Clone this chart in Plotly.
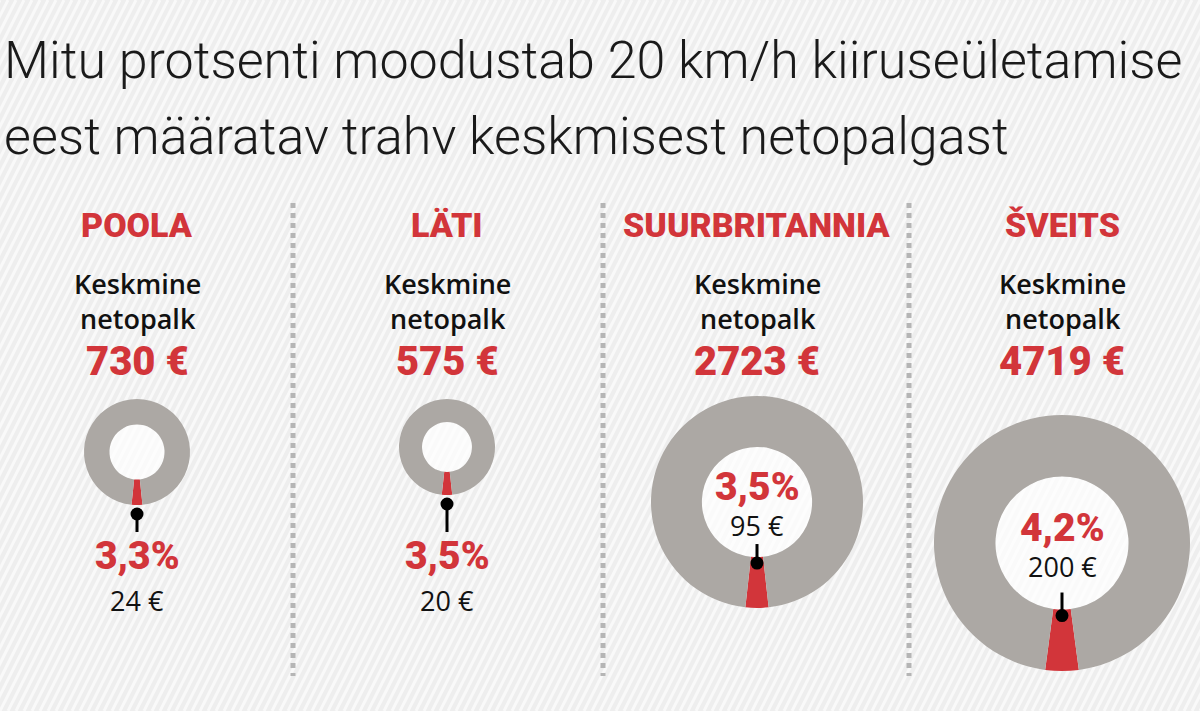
import plotly.graph_objects as go

# data read from the infographic
countries = ['POOLA', 'LÄTI', 'SUURBRITANNIA', 'ŠVEITS']
salaries = [730, 575, 2723, 4719]        # keskmine netopalk, €
fine_pct = [3.3, 3.5, 3.5, 4.2]          # trahv % palgast
fines = [24, 20, 95, 200]                # trahv, €

title_lines = [
	'Mitu protsenti moodustab 20 km/h kiiruseületamise',
	'eest määratav trahv keskmisest netopalgast',
]
salary_label = 'Keskmine<br>netopalk'

# layout (pixels)
W, H = 1200, 711
col_x = [137, 447, 757, 1062]
ring_cy = [452, 447, 502, 543]
ring_r = [53, 48, 106, 128]
separators_x = [293, 603, 909]
HOLE = 0.52

RED = '#d2353a'
GREY = '#aca8a4'
BG = '#eeeeee'
HEAVY = 'Roboto, Lato, sans-serif'
SANS = 'Open Sans, Noto Sans, sans-serif'


def fmt_pct(v):
	return f'{v:.1f}'.replace('.', ',') + '%'


fig = go.Figure()
annotations = []
shapes = []

# background stripes
for x0 in range(-360, W + 8, 8):
	shapes.append(dict(type='line', xref='x', yref='y', x0=x0, y0=H, x1=x0 + 360, y1=0,
		line=dict(color='#f9f9f9', width=3), layer='below'))

for i, name in enumerate(countries):
	cx, cy, r = col_x[i], ring_cy[i], ring_r[i]
	pct = fine_pct[i]

	fig.add_trace(go.Pie(
		values=[pct, 100 - pct],
		labels=['trahv', 'palk'],
		marker=dict(colors=[RED, GREY], line=dict(width=0)),
		hole=HOLE,
		sort=False,
		direction='clockwise',
		rotation=180 - pct * 3.6 / 2,
		textinfo='none',
		hoverinfo='skip',
		showlegend=False,
		domain=dict(
			x=[(cx - r) / W, (cx + r) / W],
			y=[1 - (cy + r) / H, 1 - (cy - r) / H],
		),
	))

	# lighter disc behind the hole of the ring
	hr = r * HOLE
	shapes.append(dict(type='circle', xref='x', yref='y', x0=cx - hr, x1=cx + hr, y0=cy - hr, y1=cy + hr,
		fillcolor='rgba(255,255,255,0.7)', line=dict(width=0), layer='below'))

	if r > 80:
		# pin on the inner edge of the ring, labels inside the hole
		dot = cy + hr + 6
		stem_end = dot - 0.18 * r
		pct_y, fine_y = cy - 15, cy + 23
	else:
		dot = cy + r + 9
		stem_end = 532
		pct_y, fine_y = 556, 600

	shapes.append(dict(type='line', xref='x', yref='y', x0=cx, x1=cx, y0=dot, y1=stem_end,
		line=dict(color='#000', width=3), layer='above'))
	shapes.append(dict(type='circle', xref='x', yref='y', xsizemode='pixel', ysizemode='pixel',
		xanchor=cx, yanchor=dot, x0=-6.5, x1=6.5, y0=-6.5, y1=6.5,
		fillcolor='#000', line=dict(width=0), layer='above'))

	annotations += [
		dict(x=cx, y=225, text=name, font=dict(family=HEAVY, size=34, color=RED, weight=900)),
		dict(x=cx, y=301, text=salary_label, font=dict(family=SANS, size=27, color='#111', weight=600)),
		dict(x=cx, y=361, text=f'{salaries[i]} €', font=dict(family=HEAVY, size=40, color=RED, weight=900)),
		dict(x=cx, y=pct_y, text=fmt_pct(pct), font=dict(family=HEAVY, size=39, color=RED, weight=900)),
		dict(x=cx, y=fine_y, text=f'{fines[i]} €', font=dict(family=SANS, size=27, color='#111')),
	]

for j, line in enumerate(title_lines):
	annotations.append(dict(x=2, y=60 + 76 * j, text=line, xanchor='left',
		font=dict(family=HEAVY, size=52, color='#1a1a1a', weight=300)))

for a in annotations:
	a.update(xref='x', yref='y', showarrow=False)
	a.setdefault('xanchor', 'center')
	a.setdefault('yanchor', 'middle')

# dotted column separators
for sx in separators_x:
	shapes.append(dict(type='line', xref='x', yref='y', x0=sx, y0=203, x1=sx, y1=676,
		line=dict(color='#b5b5b5', width=5, dash='dot'), layer='below'))

fig.update_layout(
	width=W,
	height=H,
	margin=dict(l=0, r=0, t=0, b=0),
	paper_bgcolor=BG,
	plot_bgcolor=BG,
	xaxis=dict(range=[0, W], visible=False, fixedrange=True),
	yaxis=dict(range=[H, 0], visible=False, fixedrange=True),
	annotations=annotations,
	shapes=shapes,
)

fig.write_html('out.html', config={'displayModeBar': False},
	post_script="document.body.style.margin = '0';")
